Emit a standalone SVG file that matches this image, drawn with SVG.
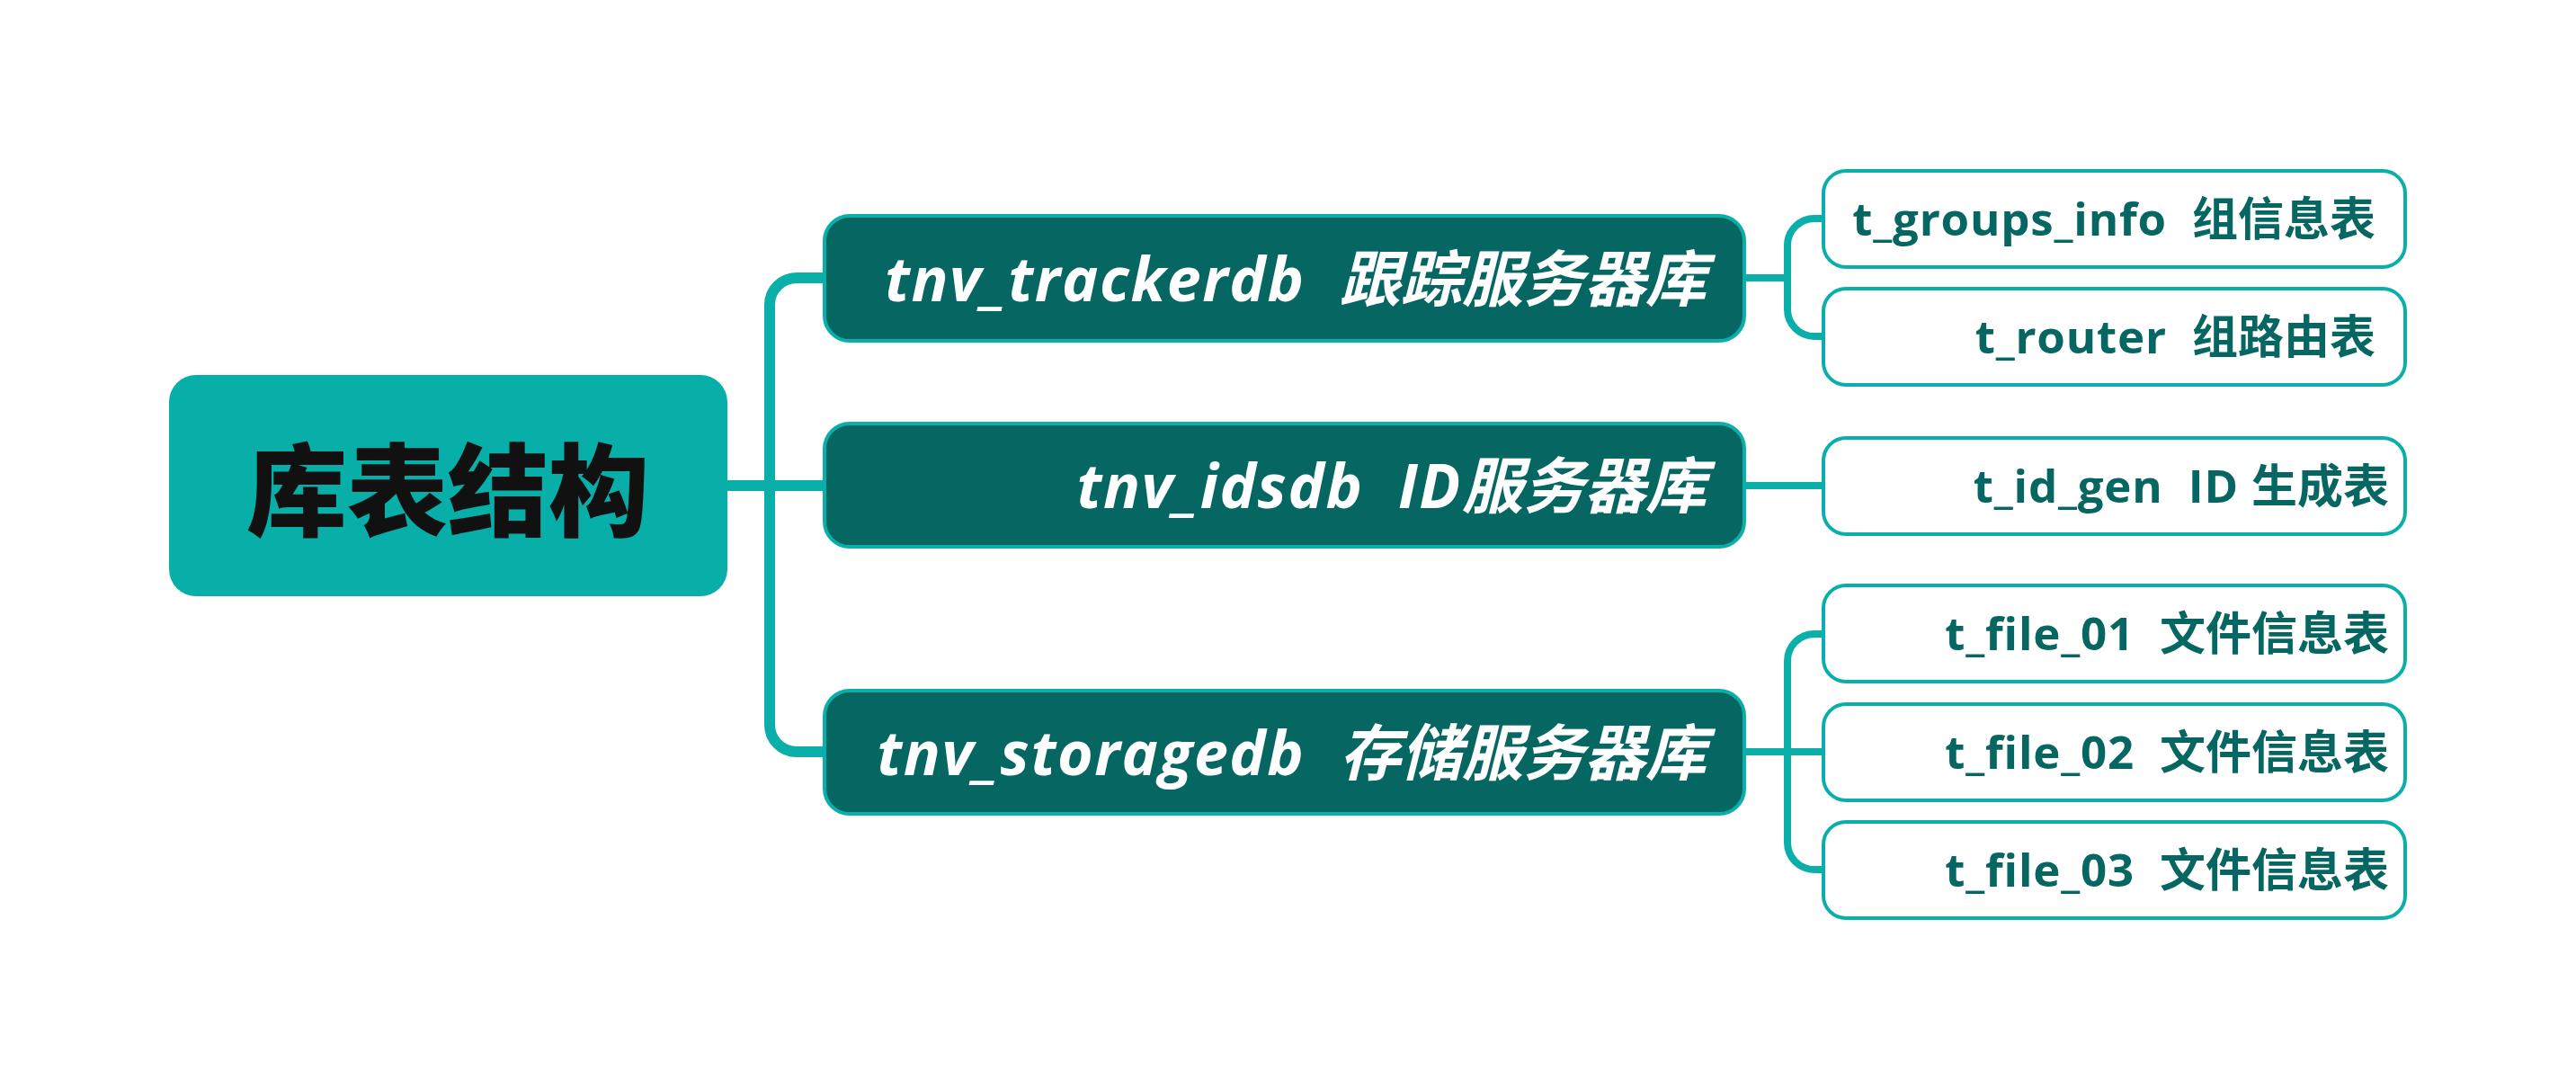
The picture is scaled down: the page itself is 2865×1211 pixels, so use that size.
<svg xmlns="http://www.w3.org/2000/svg" width="2865" height="1211" viewBox="0 0 2865 1211">
<style>
.root{fill:#08afa9;}
.roottxt{font-family:"Noto Sans CJK SC","Noto Sans",sans-serif;font-weight:900;font-size:112px;fill:#111111;}
.db{fill:#066661;stroke:#0aafa9;stroke-width:4;}
.dbtxt{font-family:"Open Sans","Noto Sans CJK SC",sans-serif;font-weight:700;font-style:italic;font-size:68px;fill:#ffffff;}
.leaf{fill:#ffffff;stroke:#0aafa9;stroke-width:4;}
.leaftxt{font-family:"Open Sans","Noto Sans CJK SC",sans-serif;font-weight:700;font-size:51px;fill:#066661;}
.lat1{letter-spacing:1.6px;}
.lat2{letter-spacing:0.8px;}
.c1{fill:none;stroke:#0aafa9;stroke-width:12;}
.c2{fill:none;stroke:#0aafa9;stroke-width:8;}
</style>
<rect width="2865" height="1211" fill="#ffffff"/>
<g id="connectors">
<path class="c1" d="M809,540 H917"/>
<path class="c1" d="M917,309 H886 A30,30 0 0 0 856,339 V806 A30,30 0 0 0 886,836 H917"/>
<path class="c2" d="M1940,309 H1988"/>
<path class="c2" d="M2028,243 H2018 A30,30 0 0 0 1988,273 V344 A30,30 0 0 0 2018,374 H2028"/>
<path class="c2" d="M1940,540 H2028"/>
<path class="c2" d="M1940,836 H2028"/>
<path class="c2" d="M2028,705 H2018 A30,30 0 0 0 1988,735 V937 A30,30 0 0 0 2018,967 H2028"/>
</g>
<g id="root">
<rect class="root" x="188" y="417" width="621" height="246" rx="30"/>
<text class="roottxt" x="498" y="588" text-anchor="middle">库表结构</text>
</g>
<g id="tnv_trackerdb">
<rect class="db" x="917" y="240" width="1023" height="139" rx="28"/>
<text class="dbtxt" x="1898" y="335" text-anchor="end" xml:space="preserve"><tspan class="lat1">tnv_trackerdb  </tspan>跟踪服务器库</text>
</g>
<g id="tnv_idsdb">
<rect class="db" x="917" y="471" width="1023" height="137" rx="28"/>
<text class="dbtxt" x="1898" y="565" text-anchor="end" xml:space="preserve"><tspan class="lat1">tnv_idsdb  ID</tspan>服务器库</text>
</g>
<g id="tnv_storagedb">
<rect class="db" x="917" y="768" width="1023" height="137" rx="28"/>
<text class="dbtxt" x="1898" y="862" text-anchor="end" xml:space="preserve"><tspan class="lat1">tnv_storagedb  </tspan>存储服务器库</text>
</g>
<g id="t_groups_info">
<rect class="leaf" x="2028" y="190" width="647" height="107" rx="25"/>
<text class="leaftxt" x="2642" y="262" text-anchor="end" xml:space="preserve"><tspan class="lat2">t_groups_info  </tspan>组信息表</text>
</g>
<g id="t_router">
<rect class="leaf" x="2028" y="321" width="647" height="107" rx="25"/>
<text class="leaftxt" x="2642" y="393" text-anchor="end" xml:space="preserve"><tspan class="lat2">t_router  </tspan>组路由表</text>
</g>
<g id="t_id_gen">
<rect class="leaf" x="2028" y="487" width="647" height="107" rx="25"/>
<text class="leaftxt" x="2657" y="559" text-anchor="end" xml:space="preserve"><tspan class="lat2">t_id_gen  ID </tspan>生成表</text>
</g>
<g id="t_file_01">
<rect class="leaf" x="2028" y="651" width="647" height="107" rx="25"/>
<text class="leaftxt" x="2657" y="723" text-anchor="end" xml:space="preserve"><tspan class="lat2">t_file_01  </tspan>文件信息表</text>
</g>
<g id="t_file_02">
<rect class="leaf" x="2028" y="783" width="647" height="107" rx="25"/>
<text class="leaftxt" x="2657" y="855" text-anchor="end" xml:space="preserve"><tspan class="lat2">t_file_02  </tspan>文件信息表</text>
</g>
<g id="t_file_03">
<rect class="leaf" x="2028" y="914" width="647" height="107" rx="25"/>
<text class="leaftxt" x="2657" y="986" text-anchor="end" xml:space="preserve"><tspan class="lat2">t_file_03  </tspan>文件信息表</text>
</g>
</svg>
